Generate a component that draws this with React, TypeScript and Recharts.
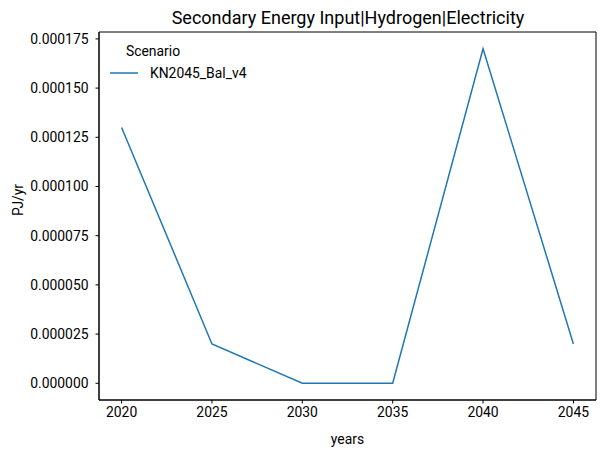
import { LineChart, Line, XAxis, YAxis, ReferenceArea } from "recharts";

const years = [2020, 2025, 2030, 2035, 2040, 2045];
const kn2045BalV4 = [0.00013, 0.00002, 0.0, 0.0, 0.00017, 0.00002];
const yTicks = [0, 0.000025, 0.00005, 0.000075, 0.0001, 0.000125, 0.00015, 0.000175];

const data = years.map((year, i) => ({ year, value: kn2045BalV4[i] }));

const FONT = "Roboto, 'Noto Sans', sans-serif";
const BLUE = "#1f77b4";
const X_DOMAIN: [number, number] = [2018.75, 2046.25];
const Y_DOMAIN: [number, number] = [-0.0000085, 0.0001785];

function LegendBox() {
  return (
    <g fontFamily={FONT} fontSize={13.9} fill="#000">
      <text x={153} y={51} textAnchor="middle" dominantBaseline="central">
        Scenario
      </text>
      <line x1={110} x2={138} y1={73} y2={73} stroke={BLUE} strokeWidth={1.5} />
      <text x={150} y={73} dominantBaseline="central">
        KN2045_Bal_v4
      </text>
    </g>
  );
}

export default function App() {
  return (
    <div style={{ position: "fixed", left: 0, top: 0, width: 604, height: 456, background: "#fff" }}>
      <LineChart
        width={604}
        height={456}
        data={data}
        margin={{ top: 32, right: 8, bottom: 0, left: 0 }}
        style={{ fontFamily: FONT }}
      >
        <text x={348} y={17} textAnchor="middle" dominantBaseline="central" fontSize={18} fontFamily={FONT} fill="#000">
          Secondary Energy Input|Hydrogen|Electricity
        </text>
        <XAxis
          dataKey="year"
          type="number"
          domain={X_DOMAIN}
          ticks={years}
          height={56}
          stroke="#000"
          tickSize={3.5}
          tickMargin={3.5}
          tick={{ fill: "#000", fontSize: 13.9 }}
          label={{ value: "years", position: "insideBottom", offset: 12, fill: "#000", fontSize: 13.9 }}
        />
        <YAxis
          type="number"
          domain={Y_DOMAIN}
          ticks={yTicks}
          width={99}
          stroke="#000"
          tickSize={3.5}
          tickMargin={7}
          tick={{ fill: "#000", fontSize: 13.9 }}
          tickFormatter={(v: number) => v.toFixed(6)}
          label={{ value: "PJ/yr", angle: -90, position: "insideLeft", offset: 18, fill: "#000", fontSize: 13.9 }}
          allowDataOverflow
        />
        <ReferenceArea
          x1={X_DOMAIN[0]}
          x2={X_DOMAIN[1]}
          y1={Y_DOMAIN[0]}
          y2={Y_DOMAIN[1]}
          fill="none"
          stroke="#000"
          strokeWidth={1}
          fillOpacity={0}
        />
        <Line
          type="linear"
          dataKey="value"
          stroke={BLUE}
          strokeWidth={1.5}
          dot={false}
          isAnimationActive={false}
        />
        <LegendBox />
      </LineChart>
    </div>
  );
}
